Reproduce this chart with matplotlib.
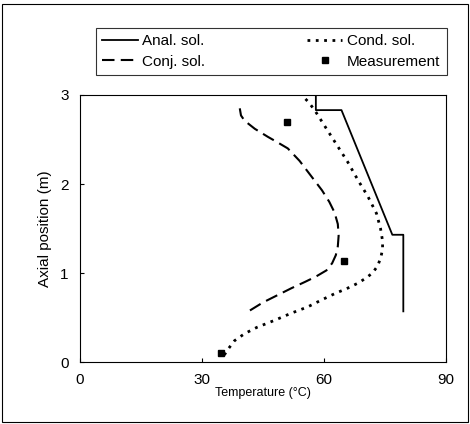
import matplotlib
matplotlib.use("Agg")
import matplotlib.pyplot as plt
from matplotlib.patches import Rectangle

plt.rcParams['font.family'] = ['Liberation Sans', 'DejaVu Sans']

# analytical solution (step profile)
anal_t = [58.0, 58.0, 64.3, 76.8, 79.5, 79.5]
anal_z = [3.0, 2.83, 2.83, 1.43, 1.43, 0.57]

# conduction solution
cond_t = [35.5, 36.5, 38.0, 40.5, 43.5, 47.9, 52.0, 56.0, 59.5, 62.7, 65.8, 68.5, 70.5, 71.9, 73.2, 74.0,
          74.4, 74.4, 73.9, 72.9, 70.8, 68.4, 65.8, 63.0, 60.2, 57.7, 56.2, 54.5]
cond_z = [0.08, 0.15, 0.24, 0.32, 0.39, 0.47, 0.55, 0.62, 0.70, 0.77, 0.83, 0.89, 0.95, 1.00, 1.08, 1.18,
          1.27, 1.36, 1.50, 1.67, 1.86, 2.04, 2.25, 2.45, 2.65, 2.83, 2.92, 3.0]

# conjugate solution
conj_t = [41.8, 45.0, 48.5, 52.0, 55.3, 58.0, 60.6, 62.0, 62.9, 63.4, 63.6, 63.4, 62.6, 61.3, 59.5,
          57.0, 54.0, 51.1, 48.5, 46.2, 43.0, 40.5, 39.6, 39.3]
conj_z = [0.58, 0.67, 0.75, 0.83, 0.90, 0.96, 1.03, 1.11, 1.20, 1.30, 1.42, 1.55, 1.68, 1.80, 1.93,
          2.08, 2.26, 2.40, 2.47, 2.53, 2.62, 2.71, 2.77, 2.85]

# measurements
meas_t = [34.6, 64.9, 50.8]
meas_z = [0.10, 1.13, 2.70]

fig = plt.figure(figsize=(4.7, 4.24), dpi=100)
ax = fig.add_axes([0.170, 0.146, 0.779, 0.630])

ax.plot(anal_t, anal_z, color='black', lw=1.3, label='Anal. sol.')
ax.plot(cond_t, cond_z, color='black', lw=2.0, linestyle=(0, (1, 2)), label='Cond. sol.')
ax.plot(conj_t, conj_z, color='black', lw=1.5, linestyle=(0, (6, 3)), label='Conj. sol.')
ax.plot(meas_t, meas_z, 's', color='black', ms=5, label='Measurement')

ax.set_xlim(0, 90)
ax.set_ylim(0, 3)
ax.set_xticks([0, 30, 60, 90])
ax.set_yticks([0, 1, 2, 3])
ax.tick_params(direction='in', length=3, labelsize=11, pad=8)
ax.set_xlabel('Temperature (°C)', fontsize=9, labelpad=0)
ax.set_ylabel('Axial position (m)', fontsize=11, labelpad=6)

h, l = ax.get_legend_handles_labels()
order = [0, 2, 1, 3]
leg = fig.legend([h[i] for i in order], [l[i] for i in order], ncol=2,
                 loc='upper left', bbox_to_anchor=(0.187, 0.811, 0.781, 0.142), mode='expand',
                 frameon=True, fancybox=False, edgecolor='black', fontsize=11,
                 handlelength=2.3, handletextpad=0.3, borderpad=0.45, labelspacing=0.4,
                 columnspacing=1.0)
leg.get_frame().set_linewidth(0.8)

fig.patches.append(Rectangle((0.005, 0.005), 0.99, 0.985, transform=fig.transFigure,
                             fill=False, edgecolor='black', lw=0.8))

fig.savefig('out.png', dpi=100)
